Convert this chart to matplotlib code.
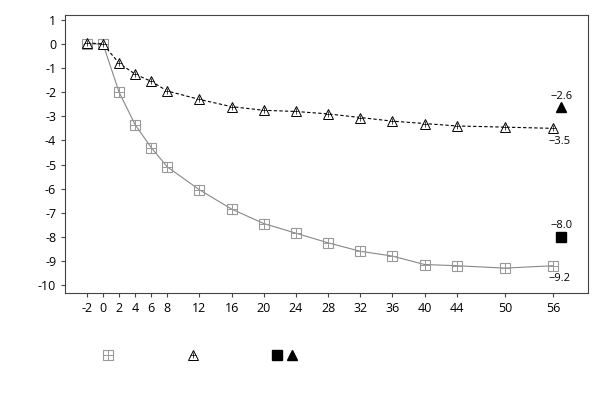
import matplotlib
matplotlib.use("Agg")
import matplotlib.pyplot as plt
from matplotlib.lines import Line2D

weeks = [-2, 0, 2, 4, 6, 8, 12, 16, 20, 24, 28, 32, 36, 40, 44, 50, 56]
sq_vals = [0.0, 0.0, -2.0, -3.35, -4.3, -5.1, -6.05, -6.85, -7.45, -7.85,
           -8.25, -8.6, -8.8, -9.15, -9.2, -9.3, -9.2]
tri_vals = [0.05, 0.0, -0.8, -1.25, -1.55, -1.95, -2.3, -2.6, -2.75, -2.8,
            -2.9, -3.05, -3.2, -3.3, -3.4, -3.45, -3.5]
end_x = 57.0
end_sq = -8.0
end_tri = -2.6

plt.rcParams['font.family'] = ['Open Sans', 'DejaVu Sans']

fig = plt.figure(figsize=(6.04, 4.08), dpi=100)
ax = fig.add_axes([0.108, 0.282, 0.865, 0.681])

ax.plot(weeks, sq_vals, color='#888888', lw=0.8, marker='s', ms=6.5, mew=0.8,
        mfc='none', mec='#999999', zorder=2)
ax.plot(weeks, sq_vals, ls='none', marker='+', ms=6.5, mew=0.7, mec='#999999', zorder=3)
ax.plot(weeks, tri_vals, color='black', lw=0.8, ls=(0, (3, 2)), marker='^', ms=6.5,
        mew=0.7, mfc='white', mec='black', zorder=4)
ax.plot(weeks, tri_vals, ls='none', marker='+', ms=5, mec='black', mew=0.5, zorder=5)
ax.plot([end_x], [end_sq], ls='none', marker='s', ms=7, color='black')
ax.plot([end_x], [end_tri], ls='none', marker='^', ms=7, color='black')

fs = 8
ax.text(end_x, end_tri + 0.2, '\u22122.6', ha='center', va='bottom', fontsize=fs)
ax.text(end_x, end_sq + 0.25, '\u22128.0', ha='center', va='bottom', fontsize=fs)
ax.text(weeks[-1] + 0.8, tri_vals[-1] - 0.3, '\u22123.5', ha='center', va='top', fontsize=fs)
ax.text(weeks[-1] + 0.8, sq_vals[-1] - 0.3, '\u22129.2', ha='center', va='top', fontsize=fs)

ax.set_xlim(-4.7, 60.3)
ax.set_ylim(-10.33, 1.2)
ax.set_xticks(weeks)
ax.set_xticklabels([str(w) for w in weeks])
ax.set_yticks(range(-10, 2))
ax.set_yticklabels([str(v) for v in range(-10, 2)])
ax.tick_params(labelsize=9, length=3, color='#444444')
for s in ax.spines.values():
    s.set_color('#444444')

# legend markers (no text)
ly = 1 - 355 / 408
fig.add_artist(Line2D([108 / 604], [ly], marker='s', ms=6.5, mew=0.8, mfc='none', mec='#999999', ls='none'))
fig.add_artist(Line2D([108 / 604], [ly], marker='+', ms=6.5, mew=0.7, mec='#999999', ls='none'))
fig.add_artist(Line2D([193 / 604], [ly], marker='^', ms=6.5, mew=0.7, mfc='white', mec='black', ls='none'))
fig.add_artist(Line2D([193 / 604], [ly], marker='+', ms=5, mec='black', mew=0.5, ls='none'))
fig.add_artist(Line2D([277 / 604], [ly], marker='s', ms=7, color='black', ls='none'))
fig.add_artist(Line2D([292 / 604], [ly], marker='^', ms=7, color='black', ls='none'))

fig.savefig('out.png', dpi=100)
